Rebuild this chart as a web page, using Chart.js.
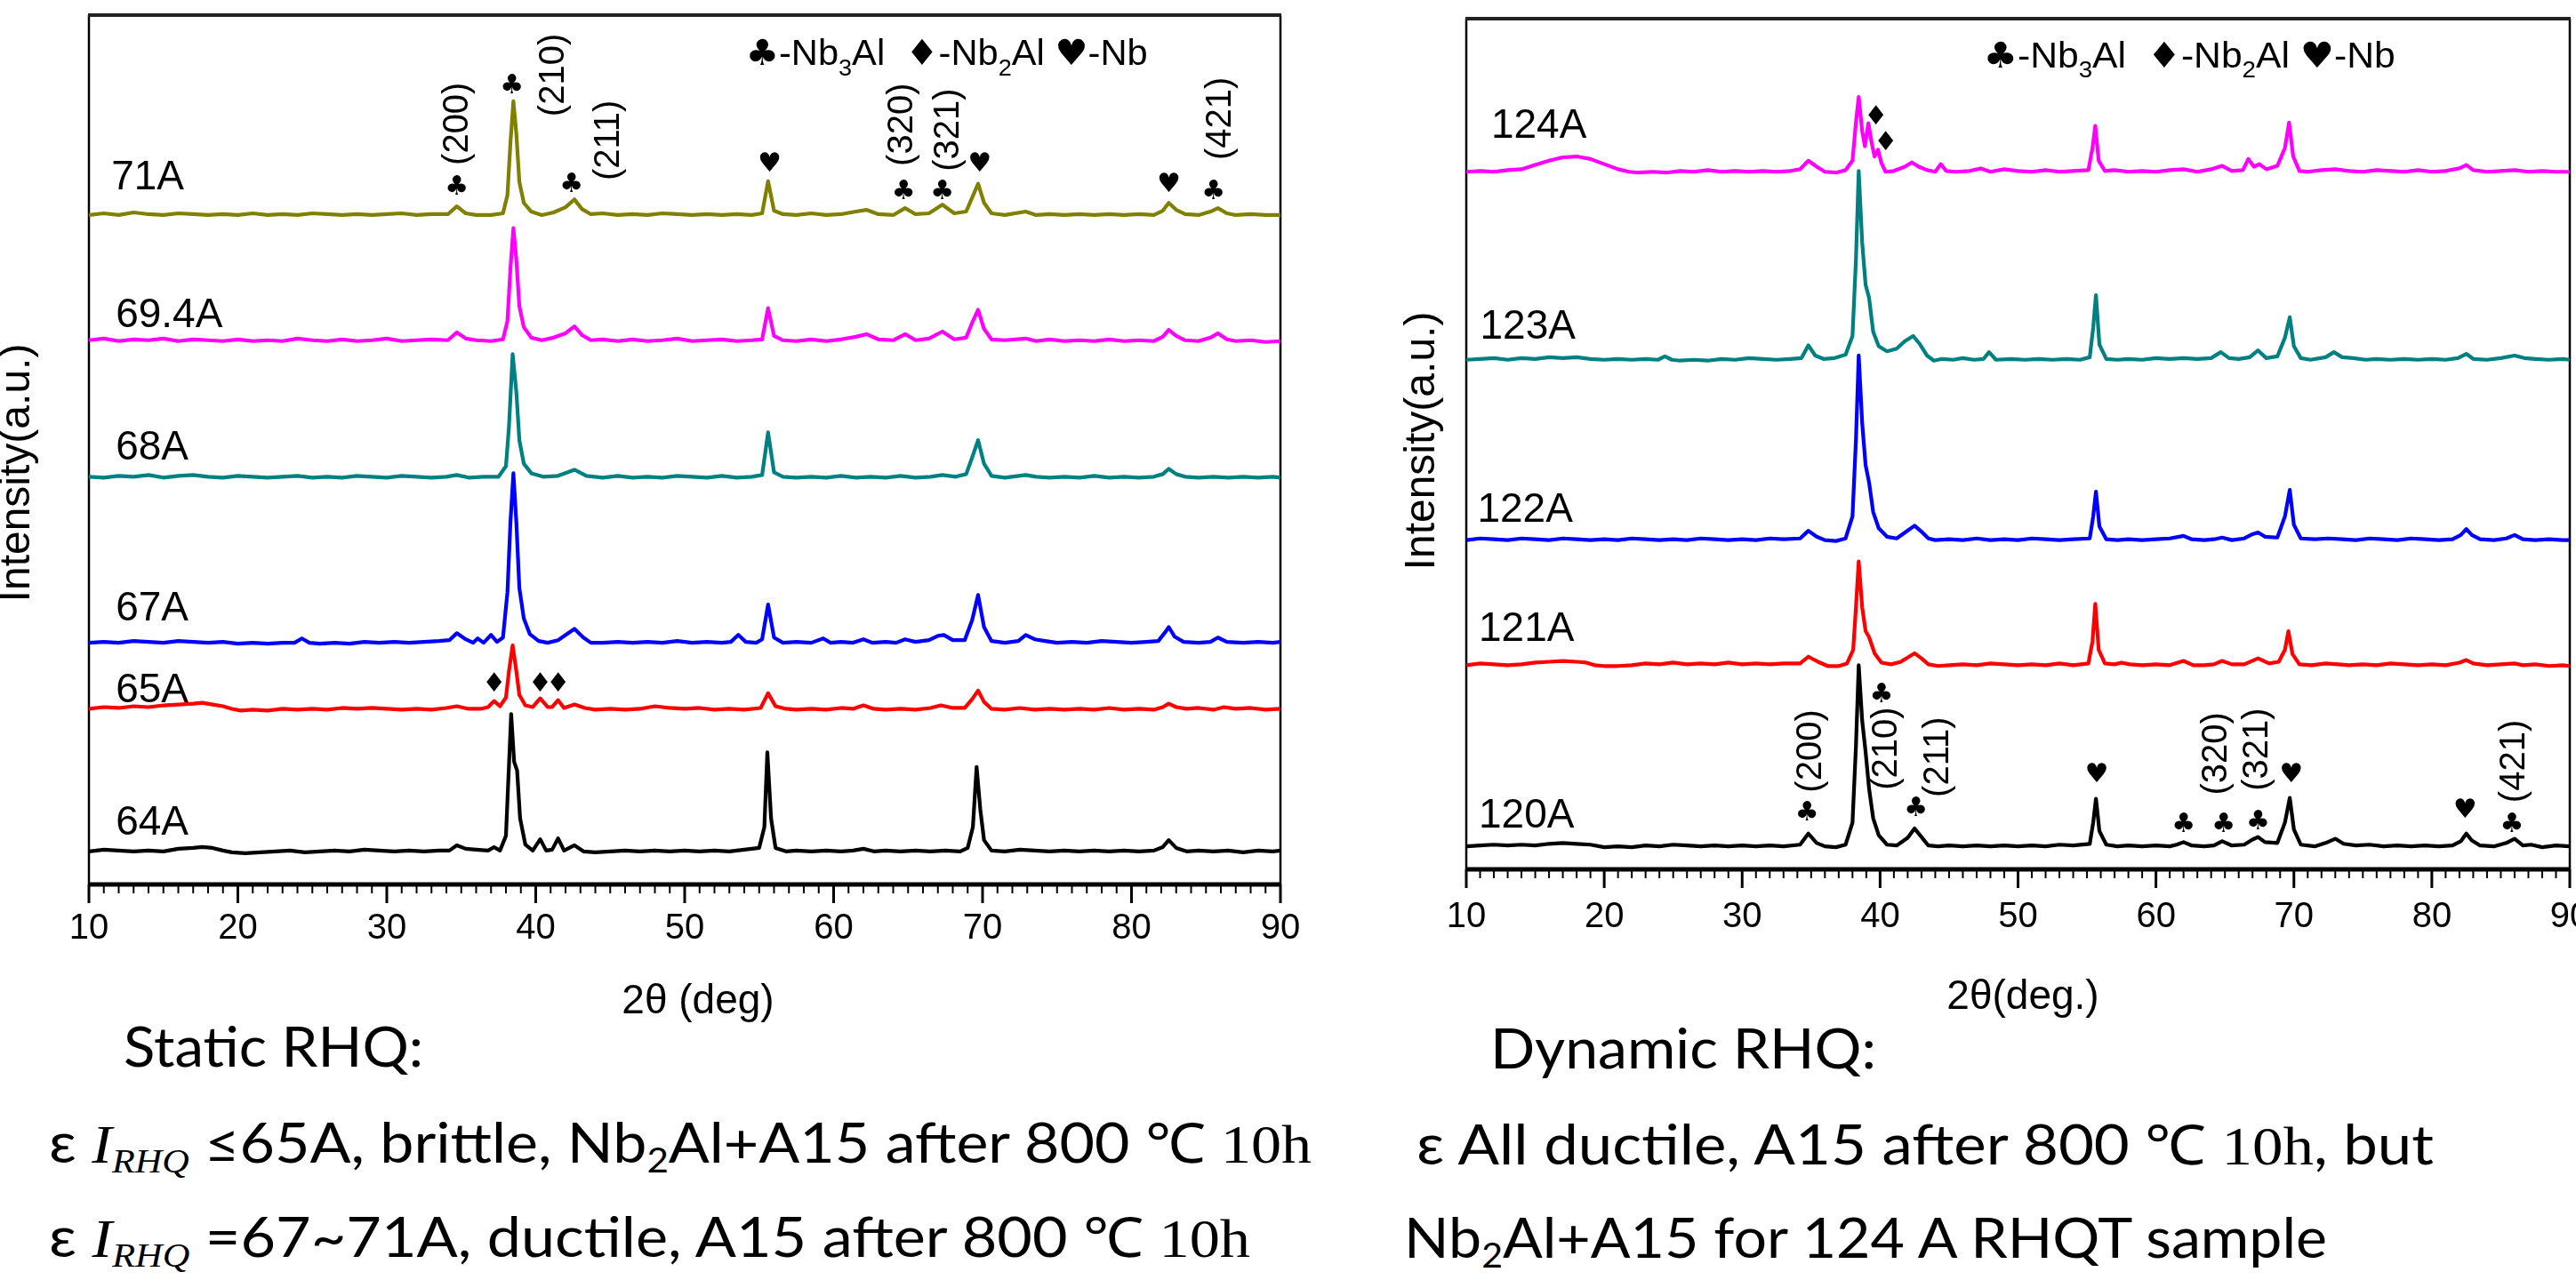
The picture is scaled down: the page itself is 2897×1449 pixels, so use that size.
<!DOCTYPE html>
<html>
<head>
<meta charset="utf-8">
<title>XRD patterns, static and dynamic RHQ</title>
<script src="https://cdn.jsdelivr.net/npm/chart.js"></script>
<style>
  body { margin:0; width:2897px; height:1449px; background:#fff; position:relative; overflow:hidden; }
  canvas { position:absolute; top:0; }
  .cap { position:absolute; left:0; top:0; white-space:nowrap; font-family: Lato, "Open Sans", sans-serif; font-size:62px; color:#000; transform-origin:0 0; line-height:1; }
  .cap sub { font-size:0.62em; vertical-align:-0.28em; line-height:0; }
  .tm { font-family:"Liberation Serif", "Times New Roman", serif; }
</style>
</head>
<body>
<canvas id="left" width="1500" height="1160" style="left:0"></canvas>
<canvas id="right" width="1347" height="1160" style="left:1550px"></canvas>

<div class="cap" data-x="139" data-w="337" data-b="1200">Static RHQ:</div>
<div class="cap" data-x="55" data-w="1420" data-b="1308">ɛ <i class="tm">I</i><sub class="tm"><i>RHQ</i></sub> ≤65A, brittle, Nb<sub>2</sub>Al+A15 after 800 <span class="tm">℃ 10h</span></div>
<div class="cap" data-x="55" data-w="1351" data-b="1414">ɛ <i class="tm">I</i><sub class="tm"><i>RHQ</i></sub> =67~71A, ductile, A15 after 800 <span class="tm">℃ 10h</span></div>
<div class="cap" data-x="1676" data-w="434" data-b="1202">Dynamic RHQ:</div>
<div class="cap" data-x="1593" data-w="1144" data-b="1310">ɛ All ductile, A15 after 800 <span class="tm">℃ 10h</span>, but</div>
<div class="cap" data-x="1579" data-w="1038" data-b="1415">Nb<sub>2</sub>Al+A15 for 124 A RHQT sample</div>

<script>
// ---- axis ----
const xMin = 10, xMax = 90;
const xMajor = [10, 20, 30, 40, 50, 60, 70, 80, 90];

// ---- static RHQ (left) : [2theta, intensity above own baseline] ----
const leftNames = ['71A', '69.4A', '68A', '67A', '65A', '64A'];
const leftOffsets = [76.8, 62.3, 46.6, 27.6, 20.0, 3.6];

const s71A = [[10,0.2],[11,0.4],[12,0.2],[13,0.5],[14,0.3],[15,0.2],[16,0.4],[17,0.3],[18,0.2],[19,0.3],[20,0.2],[21,0.4],[22,0.2],[23,0.3],[24,0.2],[25,0.4],[26,0.3],[27,0.2],[28,0.3],[29,0.2],[30,0.3],[31,0.4],[32,0.2],[33,0.3],[34.1,0.3],[34.7,1.2],[35.3,0.4],[36,0.2],[37,0.2],[37.8,0.4],[38.1,2.5],[38.3,8.5],[38.5,13.3],[38.7,9.5],[38.9,4.0],[39.2,1.6],[39.7,0.6],[40.4,0.2],[41.2,0.5],[42,1.1],[42.6,2.0],[43.1,0.9],[43.7,0.3],[44.5,0.4],[45.5,0.2],[46.5,0.3],[47.5,0.2],[48.5,0.4],[49.5,0.3],[50.5,0.2],[51.5,0.3],[52.5,0.2],[53.5,0.3],[54.5,0.2],[55.2,0.4],[55.6,4.1],[56.0,0.7],[56.6,0.3],[57.5,0.2],[58.5,0.4],[59.5,0.2],[60.5,0.3],[61.5,0.6],[62.2,0.8],[63,0.3],[64,0.2],[64.8,1.0],[65.5,0.3],[66.4,0.4],[67.3,1.4],[68.1,0.4],[68.9,0.6],[69.3,2.2],[69.7,3.8],[70.1,1.6],[70.6,0.4],[71.5,0.2],[72.9,0.6],[73.6,0.2],[74.5,0.3],[75.5,0.2],[76.5,0.3],[77.5,0.2],[78.5,0.3],[79.5,0.2],[80.5,0.3],[81.5,0.2],[82.1,0.7],[82.5,1.6],[83.0,0.8],[83.6,0.3],[84.5,0.2],[85.3,0.6],[85.8,1.0],[86.4,0.4],[87,0.2],[88,0.3],[89,0.2],[90,0.2]];

const s69A = [[10,0.3],[11,0.5],[12,0.2],[13,0.4],[14,0.3],[15,0.5],[16,0.2],[17,0.4],[18,0.3],[19,0.2],[20,0.4],[21,0.2],[22,0.3],[23,0.2],[24,0.5],[25,0.3],[26,0.2],[27,0.4],[28,0.2],[29,0.3],[30,0.5],[31,0.2],[32,0.3],[33,0.4],[34.1,0.3],[34.7,1.2],[35.3,0.5],[36,0.3],[37,0.2],[37.8,0.4],[38.1,2.5],[38.3,8.5],[38.5,13.2],[38.7,9.5],[38.9,4.2],[39.2,1.8],[39.7,0.6],[40.4,0.3],[41.2,0.6],[42,1.1],[42.6,1.9],[43.1,0.9],[43.7,0.3],[44.5,0.4],[45.5,0.2],[46.5,0.4],[47.5,0.2],[48.5,0.3],[49.5,0.5],[50.5,0.2],[51.5,0.3],[52.5,0.4],[53.5,0.2],[54.5,0.3],[55.2,0.4],[55.6,4.0],[56.0,0.8],[56.6,0.3],[57.5,0.2],[58.5,0.4],[59.5,0.2],[60.5,0.4],[61.5,0.7],[62.2,1.0],[63,0.4],[64,0.3],[64.8,1.0],[65.5,0.3],[66.4,0.5],[67.3,1.3],[68.1,0.4],[68.9,0.6],[69.3,2.3],[69.7,3.8],[70.1,1.6],[70.6,0.4],[71.5,0.3],[72.9,0.5],[73.6,0.2],[74.5,0.4],[75.5,0.2],[76.5,0.3],[77.5,0.2],[78.5,0.4],[79.5,0.2],[80.5,0.3],[81.5,0.2],[82.1,0.7],[82.5,1.5],[83.0,0.8],[83.6,0.3],[84.5,0.2],[85.3,0.6],[85.8,1.1],[86.4,0.4],[87,0.2],[88,0.3],[89,0.1],[90,0.2]];

const s68A = [[10,0.3],[11,0.2],[12,0.4],[13,0.3],[14,0.5],[15,0.2],[16,0.4],[17,0.5],[18,0.3],[19,0.2],[20,0.4],[21,0.3],[22,0.2],[23,0.3],[24,0.4],[25,0.2],[26,0.3],[27,0.2],[28,0.4],[29,0.3],[30,0.2],[31,0.4],[32,0.3],[33,0.2],[34,0.3],[34.7,0.5],[35.5,0.2],[36.5,0.3],[37.5,0.3],[38.0,1.5],[38.2,6],[38.45,14.4],[38.7,10],[38.9,4.5],[39.2,1.8],[39.7,0.7],[40.5,0.3],[41.5,0.4],[42.6,1.1],[43.4,0.4],[44.5,0.2],[45.5,0.4],[46.5,0.2],[47.5,0.3],[48.5,0.2],[49.5,0.4],[50.5,0.3],[51.5,0.2],[52.5,0.4],[53.5,0.2],[54.5,0.3],[55.2,0.5],[55.6,5.4],[56.0,0.8],[56.6,0.3],[57.5,0.2],[58.5,0.3],[59.5,0.2],[60.5,0.4],[61.5,0.2],[62.5,0.3],[63.5,0.2],[64.5,0.4],[65.5,0.2],[66.5,0.3],[67.3,0.5],[68.2,0.3],[68.9,0.6],[69.3,2.5],[69.7,4.5],[70.1,1.8],[70.6,0.4],[71.5,0.2],[72.9,0.5],[73.6,0.3],[74.5,0.2],[75.5,0.3],[76.5,0.2],[77.5,0.4],[78.5,0.2],[79.5,0.3],[80.5,0.2],[81.5,0.3],[82.1,0.6],[82.5,1.2],[83.0,0.6],[83.6,0.3],[84.5,0.2],[85.5,0.3],[86.5,0.2],[87.5,0.3],[88.5,0.2],[89.5,0.3],[90,0.2]];

const s67A = [[10,0.2],[11,0.3],[12,0.2],[13,0.4],[14,0.3],[15,0.2],[16,0.4],[17,0.3],[18,0.2],[19,0.3],[20,0.1],[21,0.2],[22,0.1],[23,0.2],[23.8,0.2],[24.3,0.7],[24.8,0.2],[25.5,0.1],[26.5,0.2],[27.5,0.1],[28.5,0.3],[29.5,0.2],[30.5,0.3],[31.5,0.2],[32.5,0.3],[33.5,0.4],[34.2,0.5],[34.7,1.3],[35.3,0.6],[35.8,0.2],[36.1,0.7],[36.5,0.2],[37.0,1.1],[37.4,0.3],[37.8,0.8],[38.1,6],[38.3,14],[38.5,19.7],[38.7,14],[38.9,6.5],[39.2,3.0],[39.6,1.2],[40.2,0.4],[40.8,0.2],[41.5,0.5],[42.1,1.2],[42.6,1.8],[43.2,0.8],[43.7,0.2],[44.5,0.2],[45.5,0.3],[46.5,0.2],[47.5,0.3],[48.5,0.2],[49.5,0.4],[50.5,0.2],[51.5,0.3],[52.5,0.2],[53.1,0.3],[53.6,1.1],[54.1,0.3],[54.8,0.2],[55.2,0.6],[55.6,4.6],[56.0,0.8],[56.6,0.2],[57.5,0.3],[58.5,0.2],[59.3,0.7],[59.8,0.2],[60.5,0.3],[61.3,0.2],[62.0,0.6],[62.6,0.2],[63.5,0.3],[64.2,0.2],[64.8,0.6],[65.5,0.3],[66.4,0.5],[67.0,1.0],[67.4,1.1],[68.0,0.5],[68.8,0.5],[69.3,2.8],[69.7,5.7],[70.1,2.0],[70.6,0.4],[71.5,0.2],[72.4,0.4],[72.9,1.1],[73.5,0.6],[74.2,0.4],[75,0.2],[76,0.3],[77,0.2],[78,0.4],[79,0.3],[80,0.2],[81,0.3],[81.8,0.4],[82.3,1.5],[82.5,2.0],[82.9,0.9],[83.5,0.3],[84.5,0.2],[85.3,0.3],[85.8,0.8],[86.4,0.3],[87.5,0.2],[88.5,0.3],[89.5,0.2],[90,0.3]];

const s65A = [[10,0.2],[11,0.4],[12,0.3],[13,0.5],[14,0.4],[15,0.6],[16,0.7],[17,0.8],[17.6,0.9],[18.3,0.7],[19,0.5],[19.6,0.2],[20.2,0.0],[21,0.1],[22,0.0],[23,0.2],[24,0.1],[25,0.2],[26,0.1],[27,0.3],[28,0.2],[29,0.3],[30,0.2],[31,0.1],[32,0.2],[33,0.1],[34,0.3],[34.7,0.5],[35.5,0.2],[36.3,0.2],[36.8,0.4],[37.2,1.1],[37.6,0.5],[38.0,1.5],[38.2,4.5],[38.45,7.5],[38.7,4.5],[38.9,1.8],[39.3,0.6],[39.8,0.4],[40.3,1.4],[40.8,0.4],[41.1,0.4],[41.5,1.2],[41.9,0.3],[42.6,0.7],[43.3,0.3],[44,0.1],[45,0.2],[46,0.1],[47,0.2],[48,0.5],[49,0.3],[50,0.2],[51,0.3],[52,0.1],[53,0.2],[54,0.1],[55.1,0.3],[55.6,2.0],[56.1,0.5],[56.8,0.2],[57.5,0.1],[58.5,0.2],[59.5,0.1],[60.5,0.3],[61.3,0.2],[62.0,0.6],[62.7,0.2],[63.5,0.1],[64.5,0.2],[65.5,0.1],[66.5,0.3],[67.2,0.6],[68,0.3],[68.8,0.3],[69.3,1.3],[69.7,2.3],[70.1,1.0],[70.6,0.2],[71.5,0.1],[72.5,0.3],[73.5,0.1],[74.5,0.2],[75.5,0.1],[76.5,0.2],[77.5,0.1],[78.5,0.3],[79.5,0.1],[80.5,0.2],[81.5,0.1],[82.1,0.4],[82.5,0.8],[83,0.4],[83.7,0.2],[84.5,0.3],[85.5,0.1],[86.2,0.4],[87,0.2],[88,0.3],[89,0.1],[90,0.2]];

const s64A = [[10,0.2],[11,0.4],[12,0.3],[13,0.2],[14,0.3],[15,0.2],[16,0.5],[17,0.6],[17.6,0.7],[18.3,0.6],[19,0.3],[19.6,0.1],[20.5,0.0],[21.5,0.1],[22.5,0.2],[23.5,0.3],[24.5,0.1],[25.5,0.2],[26.5,0.3],[27.5,0.2],[28.5,0.4],[29.5,0.3],[30.5,0.2],[31.5,0.3],[32.5,0.2],[33.5,0.3],[34.2,0.3],[34.7,0.9],[35.3,0.5],[36,0.4],[36.8,0.3],[37.2,0.7],[37.6,0.3],[38.0,2.0],[38.2,10],[38.35,16.0],[38.55,10.5],[38.75,9.5],[38.95,4],[39.3,1.0],[39.8,0.3],[40.3,1.6],[40.7,0.3],[41.1,0.4],[41.5,1.7],[41.9,0.3],[42.6,0.9],[43.2,0.2],[44,0.1],[45,0.2],[46,0.3],[47,0.2],[48,0.3],[49,0.2],[50,0.3],[51,0.2],[52,0.3],[53,0.2],[54,0.4],[55.0,0.6],[55.35,3],[55.55,11.6],[55.8,4],[56.1,0.6],[56.8,0.2],[57.5,0.3],[58.5,0.2],[59.5,0.3],[60.5,0.2],[61.3,0.3],[62.0,0.5],[62.7,0.2],[63.5,0.3],[64.5,0.2],[65.5,0.3],[66.5,0.2],[67.5,0.3],[68.5,0.2],[69.0,0.6],[69.35,3],[69.6,9.9],[69.85,5],[70.1,1.5],[70.6,0.3],[71.5,0.2],[72.5,0.4],[73.5,0.3],[74.5,0.2],[75.5,0.3],[76.5,0.2],[77.5,0.3],[78.5,0.2],[79.5,0.3],[80.5,0.2],[81.5,0.3],[82.1,0.7],[82.5,1.5],[83,0.6],[83.7,0.2],[84.5,0.3],[85.5,0.2],[86.5,0.3],[87.5,0.1],[88.5,0.3],[89.5,0.2],[90,0.3]];

// ---- dynamic RHQ (right) ----
const rightNames = ['124A', '123A', '122A', '121A', '120A'];
const rightOffsets = [81.8, 59.7, 38.5, 23.8, 2.5];

const s124A = [[10,0.2],[11,0.3],[12,0.2],[13,0.4],[14,0.5],[15,1.0],[16,1.5],[17,1.9],[18,2.0],[19,1.7],[20,1.1],[21,0.5],[21.8,0.2],[22.5,0.1],[23.5,0.2],[24.5,0.1],[25.5,0.3],[26.5,0.2],[27.5,0.4],[28.5,0.2],[29.5,0.3],[30.5,0.2],[31.5,0.3],[32.5,0.2],[33.5,0.3],[34.2,0.5],[34.8,1.5],[35.4,0.8],[36,0.2],[36.8,0.1],[37.5,0.4],[38.0,1.5],[38.25,6],[38.45,9.0],[38.7,5],[38.9,3.2],[39.15,5.9],[39.4,3.5],[39.6,2.0],[39.85,2.8],[40.1,1.2],[40.4,0.2],[41,0.3],[41.8,0.8],[42.3,1.3],[42.8,0.8],[43.4,0.4],[44.0,0.2],[44.4,1.1],[44.8,0.3],[45.5,0.2],[46.5,0.3],[47.3,0.6],[48,0.2],[49,0.5],[50,0.3],[51,0.2],[52,0.4],[53,0.2],[54,0.3],[55.1,0.4],[55.4,3],[55.6,5.6],[55.85,1.5],[56.3,0.3],[57,0.4],[58,0.2],[59,0.3],[60,0.2],[61,0.4],[62,0.5],[63,0.2],[64,0.5],[64.8,0.9],[65.5,0.3],[66.3,0.4],[66.7,1.7],[67.1,0.8],[67.5,1.1],[68,0.5],[68.8,0.9],[69.35,3],[69.65,6.0],[69.95,2],[70.4,0.3],[71,0.2],[72,0.4],[73,0.5],[74,0.3],[75,0.2],[76,0.4],[77,0.3],[78,0.2],[79,0.4],[80,0.2],[81,0.3],[82,0.6],[82.5,1.0],[83,0.4],[84,0.2],[85,0.3],[86,0.4],[87,0.2],[88,0.3],[89,0.2],[90,0.2]];

const s123A = [[10,0.2],[11,0.3],[12,0.4],[13,0.2],[14,0.4],[15,0.3],[16,0.5],[17,0.4],[18,0.5],[19,0.3],[20,0.2],[21,0.3],[22,0.2],[23,0.3],[23.9,0.2],[24.4,0.6],[24.9,0.2],[25.5,0.1],[26.5,0.2],[27.5,0.1],[28.5,0.3],[29.5,0.2],[30.5,0.4],[31.5,0.3],[32.5,0.2],[33.5,0.3],[34.3,0.4],[34.8,1.9],[35.3,0.7],[35.9,0.3],[36.7,0.4],[37.5,0.8],[38.0,3],[38.25,12],[38.45,22.4],[38.7,14],[38.95,9],[39.2,7.5],[39.5,3.5],[39.9,1.8],[40.5,1.2],[41.2,1.5],[41.8,2.4],[42.4,3.0],[42.9,2.0],[43.4,0.7],[43.9,0.1],[44.5,0.3],[45.3,0.2],[46,0.4],[46.8,0.2],[47.5,0.3],[47.9,1.1],[48.4,0.2],[49.5,0.3],[50.5,0.2],[51.5,0.3],[52.5,0.2],[53.5,0.3],[54.5,0.2],[55.2,0.5],[55.45,4],[55.65,7.8],[55.9,2],[56.4,0.3],[57.2,0.2],[58,0.3],[59,0.2],[60,0.4],[61,0.3],[62,0.4],[63,0.3],[64,0.4],[64.7,1.1],[65.3,0.4],[66,0.3],[66.8,0.5],[67.4,1.3],[68,0.4],[68.8,0.6],[69.35,2.8],[69.7,5.2],[70.0,1.8],[70.5,0.4],[71.2,0.2],[72.3,0.5],[72.9,1.1],[73.5,0.5],[74.3,0.4],[75.2,0.2],[76,0.3],[77,0.2],[78,0.3],[79,0.2],[80,0.3],[81,0.2],[81.9,0.4],[82.5,0.9],[83,0.3],[84,0.2],[85,0.4],[86,0.7],[86.7,0.4],[87.5,0.3],[88.5,0.2],[89.5,0.3],[90,0.2]];

const s122A = [[10,0.2],[11,0.4],[12,0.3],[13,0.2],[14,0.4],[15,0.3],[16,0.2],[17,0.4],[18,0.3],[19,0.2],[20,0.3],[21,0.2],[22,0.4],[23,0.3],[24,0.2],[25,0.3],[26,0.2],[27,0.4],[28,0.3],[29,0.2],[30,0.3],[31,0.2],[32,0.4],[33,0.3],[34.2,0.4],[34.8,1.3],[35.4,0.6],[36,0.2],[36.8,0.1],[37.5,0.4],[38.0,3],[38.25,12],[38.45,21.9],[38.7,14],[38.95,9],[39.2,7.0],[39.5,3.5],[39.9,1.6],[40.5,0.6],[41.2,0.4],[41.9,1.2],[42.5,1.9],[43.0,1.2],[43.5,0.4],[44,0.2],[45,0.3],[46,0.2],[47,0.4],[48,0.2],[49,0.3],[50,0.2],[51,0.4],[52,0.3],[53,0.2],[54,0.3],[55.2,0.4],[55.45,3],[55.65,5.9],[55.9,1.8],[56.4,0.3],[57.2,0.2],[58,0.3],[59,0.2],[60,0.3],[61,0.4],[62,0.7],[62.6,0.3],[63.5,0.2],[64.2,0.3],[64.8,0.5],[65.5,0.2],[66.4,0.4],[67.0,0.9],[67.4,1.1],[67.9,0.6],[68.8,0.5],[69.35,3],[69.7,6.1],[70.0,2],[70.5,0.4],[71.5,0.3],[72.5,0.4],[73.5,0.3],[74.5,0.2],[75.5,0.4],[76.5,0.3],[77.5,0.2],[78.5,0.4],[79.5,0.3],[80.5,0.2],[81.5,0.3],[82.1,0.8],[82.5,1.5],[82.9,0.8],[83.5,0.3],[84.5,0.2],[85.4,0.4],[86,0.8],[86.6,0.3],[87.5,0.2],[88.5,0.3],[89.5,0.2],[90,0.2]];

const s121A = [[10,0.2],[11,0.4],[12,0.3],[13,0.2],[14,0.3],[15,0.5],[16,0.6],[17,0.7],[18,0.6],[18.7,0.5],[19.3,0.2],[20,0.1],[21,0.1],[22,0.2],[23,0.4],[24,0.3],[25,0.5],[26,0.3],[27,0.4],[28,0.3],[29,0.5],[30,0.3],[31,0.4],[32,0.3],[33,0.4],[34.2,0.4],[34.8,1.2],[35.5,0.6],[36.2,0.1],[37,0.1],[37.6,0.4],[38.05,2],[38.25,7],[38.45,12.4],[38.7,7],[38.95,4.2],[39.2,3.5],[39.6,1.6],[40.1,0.5],[40.8,0.3],[41.5,0.6],[42.1,1.2],[42.5,1.6],[43.0,1.0],[43.5,0.3],[44.2,0.1],[45,0.2],[46,0.3],[47,0.2],[48,0.4],[49,0.3],[50,0.2],[51,0.3],[52,0.2],[53,0.4],[54,0.2],[55.1,0.4],[55.4,3],[55.6,7.4],[55.85,2],[56.3,0.4],[57.0,0.3],[57.5,0.5],[58.1,0.3],[59,0.2],[60,0.3],[61,0.2],[62,0.7],[62.7,0.2],[63.5,0.2],[64.2,0.3],[64.8,0.7],[65.5,0.3],[66.4,0.3],[67.4,1.0],[68.2,0.4],[68.9,0.6],[69.35,2],[69.6,4.2],[69.9,1.5],[70.4,0.3],[71.3,0.2],[72.3,0.4],[73.2,0.3],[74,0.2],[75,0.3],[76,0.2],[77,0.4],[78,0.3],[79,0.2],[80,0.3],[81,0.2],[82,0.5],[82.5,0.8],[83,0.4],[84,0.2],[85,0.3],[86,0.4],[86.6,0.2],[87.5,0.3],[88.5,0.1],[89.5,0.2],[90,0.1]];

const s120A = [[10,0.2],[11,0.3],[12,0.4],[13,0.3],[14,0.4],[15,0.3],[16,0.5],[17,0.6],[18,0.5],[19,0.4],[20,0.1],[21,0.2],[22,0.1],[23,0.3],[24,0.2],[25,0.4],[26,0.3],[27,0.2],[28,0.3],[29,0.2],[30,0.3],[31,0.2],[32,0.3],[33,0.2],[34.2,0.4],[34.8,1.7],[35.4,0.6],[36,0.2],[36.8,0.1],[37.5,0.4],[38.0,3],[38.25,12],[38.45,21.5],[38.7,15],[38.95,11.3],[39.2,7],[39.5,3.5],[39.9,1.5],[40.5,0.4],[41.2,0.3],[42.0,1.2],[42.5,2.3],[43.0,1.3],[43.5,0.3],[44.2,0.2],[45,0.3],[46,0.2],[47,0.3],[48,0.2],[49,0.3],[50,0.2],[51,0.3],[52,0.2],[53,0.4],[54,0.3],[55.2,0.5],[55.45,3],[55.65,5.8],[55.9,2.0],[56.4,0.4],[57.2,0.2],[58,0.3],[59,0.2],[60,0.3],[61,0.2],[61.5,0.4],[62,0.7],[62.6,0.3],[63.5,0.2],[64.2,0.3],[64.8,0.8],[65.5,0.3],[66.4,0.4],[67.0,1.0],[67.4,1.3],[67.9,0.7],[68.8,0.6],[69.35,3],[69.7,5.9],[70.0,2.2],[70.5,0.4],[71.5,0.2],[72.3,0.6],[73.0,1.1],[73.6,0.5],[74.5,0.3],[75.5,0.4],[76.5,0.2],[77.5,0.3],[78.5,0.2],[79.5,0.3],[80.5,0.2],[81.5,0.3],[82.1,0.8],[82.5,1.7],[82.9,0.9],[83.5,0.3],[84.5,0.2],[85.4,0.6],[86,1.1],[86.6,0.3],[87.2,0.4],[88,0.1],[89,0.3],[90,0.2]];

const leftSeries = [s71A, s69A, s68A, s67A, s65A, s64A];
const rightSeries = [s124A, s123A, s122A, s121A, s120A];

// ---- styles ----
const leftColors = ['#808000', '#ff00ff', '#008080', '#0000ff', '#ff0000', '#000000'];
const rightColors = ['#ff00ff', '#008080', '#0000ff', '#ff0000', '#000000'];
const SANS = '"Liberation Sans", Arial, sans-serif';
const SYM = '"DejaVu Sans", sans-serif';

// ---- annotation placement (2theta, y-axis units) ----
const leftMarks = {
  names: [[11.5, 81.3], [11.8, 65.4], [11.8, 50.2], [11.8, 31.7], [11.8, 22.3], [11.8, 7.0]],
  clubs: [[34.7, 80.1], [38.4, 91.8], [42.4, 80.5], [64.7, 79.6], [67.3, 79.6], [85.5, 79.6]],
  hearts: [[55.7, 82.8], [69.8, 82.8], [82.5, 80.5]],
  diamonds: [[37.2, 23.0], [40.3, 23.0], [41.5, 23.0]],
  hkl: [['(200)', 34.8, 87.5], ['(210)', 41.2, 93.1], ['(211)', 44.9, 85.6], ['(320)', 64.6, 87.4], ['(321)', 67.7, 86.8], ['(421)', 86.0, 88.1]],
  legend: [54.1, 95.7], legendW: 452,
  xTitle: '2θ (deg)', xTitlePos: [785, 1127], yTitlePos: [20, 532], tickY: 1045
};
const rightMarks = {
  names: [[11.8, 87.3], [11.0, 63.7], [10.8, 42.2], [10.9, 28.2], [10.9, 6.2]],
  clubs: [[34.7, 6.6], [40.1, 20.5], [42.6, 7.1], [62.0, 5.2], [64.9, 5.2], [67.4, 5.5], [85.8, 5.2]],
  hearts: [[55.7, 11.1], [69.8, 11.1], [82.4, 6.9]],
  diamonds: [[39.7, 88.4], [40.4, 85.4]],
  hkl: [['(200)', 35.0, 13.9], ['(210)', 40.5, 14.2], ['(211)', 44.2, 13.2], ['(320)', 64.4, 13.6], ['(321)', 67.4, 14.1], ['(421)', 86.0, 12.7]],
  legend: [47.5, 95.8], legendW: 463,
  xTitle: '2θ(deg.)', xTitlePos: [725, 1122], yTitlePos: [50, 496], tickY: 1032
};

function txt(ctx, s, x, y, font, align, rot) {
  ctx.save();
  ctx.translate(x, y);
  if (rot) ctx.rotate(rot);
  ctx.font = font;
  ctx.textAlign = align || 'center';
  ctx.textBaseline = 'middle';
  ctx.fillStyle = '#000';
  ctx.fillText(s, 0, 0);
  ctx.restore();
}

const decoPlugin = {
  id: 'deco',
  beforeDatasetsDraw(chart, args, o) {
    const { ctx, chartArea: a, scales: { x } } = chart;
    ctx.save();
    ctx.strokeStyle = '#000';
    // minor / major ticks below the axis
    for (let v = xMin; v <= xMax; v++) {
      const px = x.getPixelForValue(v);
      const major = xMajor.includes(v);
      ctx.lineWidth = major ? 3 : 2;
      ctx.beginPath();
      ctx.moveTo(px, a.bottom);
      ctx.lineTo(px, a.bottom + (major ? 21 : 10));
      ctx.stroke();
    }
    // frame
    ctx.lineWidth = 2.5;
    ctx.beginPath();
    ctx.moveTo(a.left, a.top); ctx.lineTo(a.left, a.bottom);
    ctx.moveTo(a.right, a.top); ctx.lineTo(a.right, a.bottom);
    ctx.stroke();
    ctx.lineWidth = 4;
    ctx.strokeStyle = '#222';
    ctx.beginPath(); ctx.moveTo(a.left - 1, a.top); ctx.lineTo(a.right + 1, a.top); ctx.stroke();
    ctx.strokeStyle = '#000';
    ctx.lineWidth = 5;
    ctx.beginPath(); ctx.moveTo(a.left - 1, a.bottom); ctx.lineTo(a.right + 1, a.bottom); ctx.stroke();
    ctx.restore();

    const m = o.marks;
    xMajor.forEach(v => txt(ctx, String(v), x.getPixelForValue(v), m.tickY, '40px ' + SANS));
    txt(ctx, m.xTitle, m.xTitlePos[0], m.xTitlePos[1], '46px ' + SANS);
    txt(ctx, 'Intensity(a.u.)', m.yTitlePos[0], m.yTitlePos[1], '48px ' + SANS, 'center', -Math.PI / 2);
  },
  afterDatasetsDraw(chart, args, o) {
    const { ctx, scales: { x, y } } = chart;
    const m = o.marks;
    const P = (t, v) => [x.getPixelForValue(t), y.getPixelForValue(v)];
    o.names.forEach((n, i) => { const [px, py] = P(m.names[i][0], m.names[i][1]); txt(ctx, n, px, py, '46px ' + SANS, 'left'); });
    m.clubs.forEach(([t, v]) => { const [px, py] = P(t, v); txt(ctx, '♣', px, py, '30px ' + SYM); });
    m.hearts.forEach(([t, v]) => { const [px, py] = P(t, v); txt(ctx, '♥', px, py, '30px ' + SYM); });
    m.diamonds.forEach(([t, v]) => { const [px, py] = P(t, v); txt(ctx, '♦', px, py, '30px ' + SYM); });
    m.hkl.forEach(([s, t, v]) => { const [px, py] = P(t, v); txt(ctx, s, px, py, '40px ' + SANS, 'center', -Math.PI / 2); });

    // phase key with subscripts, stretched to its width in the figure
    const parts = [['♣', 0, SYM], ['-Nb', 0], ['3', 1], ['Al  ', 0], ['♦', 0, SYM], ['-Nb', 0], ['2', 1], ['Al ', 0], ['♥', 0, SYM], ['-Nb', 0]];
    const F = 40, FS = 26;
    const fontOf = p => (p[1] ? FS : F) + 'px ' + (p[2] || SANS);
    ctx.save();
    let w = 0;
    parts.forEach(p => { ctx.font = fontOf(p); w += ctx.measureText(p[0]).width; });
    const [lx, ly] = P(m.legend[0], m.legend[1]);
    ctx.translate(lx, ly);
    ctx.scale(m.legendW / w, 1);
    ctx.fillStyle = '#000';
    ctx.textBaseline = 'alphabetic';
    let cx = 0;
    parts.forEach(p => {
      ctx.font = fontOf(p);
      ctx.fillText(p[0], cx, p[1] ? F * 0.36 + FS * 0.45 : F * 0.36);
      cx += ctx.measureText(p[0]).width;
    });
    ctx.restore();
  }
};

function makeChart(id, names, series, offsets, colors, pad, marks) {
  return new Chart(document.getElementById(id), {
    type: 'scatter',
    data: {
      datasets: series.map((s, i) => ({
        label: names[i],
        data: s.map(([t, v]) => ({ x: t, y: v + offsets[i] })),
        showLine: true,
        borderColor: colors[i],
        borderWidth: 4.2,
        borderJoinStyle: 'round',
        pointRadius: 0,
        fill: false
      }))
    },
    options: {
      responsive: false,
      animation: false,
      events: [],
      devicePixelRatio: 1,
      layout: { padding: pad },
      scales: {
        x: { type: 'linear', min: xMin, max: xMax, display: false },
        y: { type: 'linear', min: 0, max: 100, display: false }
      },
      plugins: {
        legend: { display: false },
        tooltip: { enabled: false },
        deco: { marks, names }
      }
    },
    plugins: [decoPlugin]
  });
}

makeChart('left', leftNames, leftSeries, leftOffsets, leftColors, { left: 100, top: 17, right: 60, bottom: 165 }, leftMarks);
makeChart('right', rightNames, rightSeries, rightOffsets, rightColors, { left: 99, top: 21, right: 7, bottom: 182 }, rightMarks);

// captions: put baseline at data-b and stretch to the width in the figure
document.querySelectorAll('.cap').forEach(el => {
  const mk = document.createElement('span');
  mk.style.cssText = 'display:inline-block;width:0;height:0;';
  el.appendChild(mk);
  el.style.left = el.dataset.x + 'px';
  const r = el.getBoundingClientRect();
  const base = mk.getBoundingClientRect().bottom - r.top;
  el.style.top = (+el.dataset.b - base) + 'px';
  el.style.transform = 'scaleX(' + (+el.dataset.w / r.width) + ')';
});
</script>
</body>
</html>
